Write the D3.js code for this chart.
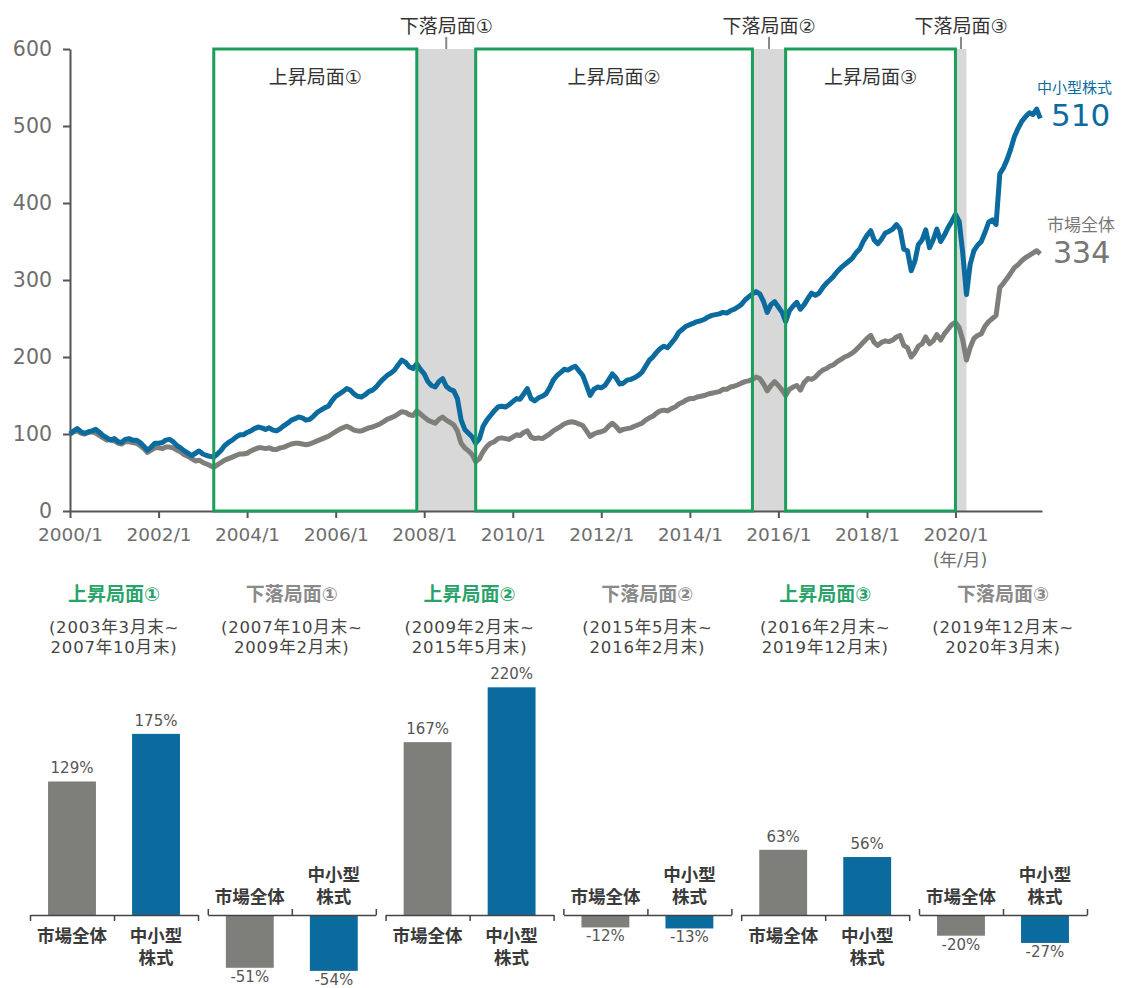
<!DOCTYPE html>
<html>
<head>
<meta charset="utf-8">
<script src="https://cdn.jsdelivr.net/npm/d3@7"></script>
<style>
body { margin: 0; background: #fff; }
svg text { font-family: "DejaVu Sans", "Noto Sans CJK JP", sans-serif; }
</style>
</head>
<body>
<div id="chart"></div>
<script>
/* 中小型株式 vs 市場全体 : line chart + phase bars */

// month-end index values, first value = base (1999/12末 = 100)
var smallCap = [100,
    104, 107, 103, 101, 103, 104, 106, 102, 98, 95, 92, 94,      // 2000
    90, 89, 93, 94, 92, 92, 89, 84, 79, 83, 88, 88,              // 2001
    89, 92, 93, 90, 85, 82, 78, 75, 72, 75, 78, 74,              // 2002
    72, 71, 70, 74, 79, 85, 89, 92, 96, 99, 99, 102,             // 2003
    104, 107, 109, 108, 106, 108, 105, 104, 107, 111, 114, 118,  // 2004
    120, 122, 121, 118, 119, 123, 128, 131, 134, 136, 143, 149,  // 2005
    152, 155, 159, 157, 152, 149, 148, 151, 155, 157, 161, 167,  // 2006
    172, 176, 179, 183, 190, 196, 193, 187, 185, 191, 184, 178,  // 2007
    168, 163, 161, 168, 172, 162, 158, 156, 146, 118, 106, 101,  // 2008
    96, 88, 94, 110, 118, 124, 130, 135, 136, 135, 138, 142,     // 2009
    146, 145, 152, 159, 146, 143, 147, 149, 152, 160, 170, 176,  // 2010
    180, 184, 183, 186, 188, 182, 176, 163, 150, 158, 161, 160,  // 2011
    163, 170, 178, 173, 165, 166, 170, 171, 173, 176, 180, 188,  // 2012
    196, 200, 206, 211, 214, 212, 218, 224, 232, 236, 240, 242,  // 2013
    244, 246, 247, 249, 252, 254, 255, 256, 258, 257, 260, 262,  // 2014
    265, 268, 274, 278, 282, 285, 282, 272, 258, 268, 272, 265,  // 2015
    258, 246, 260, 266, 271, 262, 268, 276, 283, 280, 283, 290,  // 2016
    296, 300, 305, 311, 316, 320, 324, 328, 335, 340, 350, 358,  // 2017
    364, 352, 347, 353, 361, 363, 366, 372, 366, 340, 338, 312,  // 2018
    325, 346, 352, 365, 342, 352, 366, 350, 358, 368, 376, 385,  // 2019
    376, 335, 281, 320, 338, 345, 350, 362, 375, 378, 372, 438,  // 2020
    446, 456, 470, 486, 497, 506, 512, 517, 515, 522, 510        // 2021
];

var market = [100,
    103, 104, 101, 100, 102, 103, 101, 98, 95, 92, 93, 91,       // 2000
    88, 87, 90, 90, 89, 88, 85, 81, 76, 79, 82, 82,              // 2001
    81, 83, 83, 82, 79, 77, 73, 71, 68, 65, 66, 63,              // 2002
    61, 59, 57, 60, 63, 66, 68, 70, 72, 74, 74, 75,              // 2003
    78, 80, 82, 82, 81, 82, 80, 80, 82, 83, 85, 87,              // 2004
    88, 88, 87, 86, 87, 89, 91, 93, 95, 97, 100, 103,            // 2005
    106, 108, 110, 108, 105, 104, 104, 106, 108, 109, 111, 113,  // 2006
    116, 119, 121, 123, 126, 129, 128, 125, 124, 130, 126, 122,  // 2007
    118, 116, 114, 119, 122, 118, 115, 112, 104, 88, 82, 78,     // 2008
    73, 64, 68, 77, 84, 88, 90, 94, 95, 94, 93, 96,              // 2009
    99, 98, 102, 104, 96, 94, 95, 94, 97, 100, 104, 107,         // 2010
    110, 113, 115, 116, 115, 113, 111, 104, 97, 100, 102, 103,   // 2011
    105, 110, 114, 110, 104, 106, 107, 108, 110, 112, 114, 118,  // 2012
    121, 123, 127, 130, 131, 130, 133, 135, 139, 141, 144, 146,  // 2013
    146, 148, 149, 150, 152, 153, 154, 155, 158, 158, 161, 162,  // 2014
    164, 166, 168, 169, 171, 174, 172, 165, 156, 163, 168, 163,  // 2015
    157, 150, 158, 161, 163, 157, 167, 172, 171, 174, 179, 183,  // 2016
    185, 188, 190, 194, 197, 200, 202, 205, 209, 214, 219, 224,  // 2017
    228, 219, 215, 219, 221, 220, 222, 226, 228, 215, 212, 200,  // 2018
    206, 214, 217, 226, 217, 221, 229, 222, 230, 236, 242, 245,  // 2019
    238, 222, 196, 212, 224, 228, 230, 240, 246, 250, 254, 290,  // 2020
    296, 302, 309, 316, 320, 325, 329, 332, 335, 338, 334        // 2021
];

var yTicks = [0, 100, 200, 300, 400, 500, 600];
var xTickYears = [2000, 2002, 2004, 2006, 2008, 2010, 2012, 2014, 2016, 2018, 2020];

// phases (month-end start / end)
var phaseNames = ["上昇局面①", "下落局面①", "上昇局面②", "下落局面②", "上昇局面③", "下落局面③"];
var phaseUp = [true, false, true, false, true, false];
var phaseStart = ["2003-03", "2007-10", "2009-02", "2015-05", "2016-02", "2019-12"];
var phaseEnd = ["2007-10", "2009-02", "2015-05", "2016-02", "2019-12", "2020-03"];
var periodLine1 = ["(2003年3月末~", "(2007年10月末~", "(2009年2月末~", "(2015年5月末~", "(2016年2月末~", "(2019年12月末~"];
var periodLine2 = ["2007年10月末)", "2009年2月末)", "2015年5月末)", "2016年2月末)", "2019年12月末)", "2020年3月末)"];
var marketReturn = [129, -51, 167, -12, 63, -20];
var smallReturn = [175, -54, 220, -13, 56, -27];

var blue = "#0b6b9f", grey = "#7e7f7a", green = "#1c9d5c", band = "#d8d8d8";

var width = 1125, height = 988;
var svg = d3.select("#chart").append("svg")
    .attr("width", width)
    .attr("height", height);

var parseMonth = d3.timeParse("%Y-%m");
function monthEnd(s) { return d3.timeMonth.offset(parseMonth(s), 1); }
var t0 = new Date(2000, 0, 1);

var x = d3.scaleTime()
    .domain([t0, new Date(2021, 11, 15)])
    .range([70, 1042]);
var y = d3.scaleLinear()
    .domain([0, 600])
    .range([511, 49]);

var phases = phaseNames.map(function(n, i) {
    return { name: n, up: phaseUp[i], s: monthEnd(phaseStart[i]), e: monthEnd(phaseEnd[i]) };
});

// grey falling bands
svg.selectAll("rect.band")
    .data(phases.filter(function(d) { return !d.up; }))
    .enter().append("rect")
    .attr("class", "band")
    .attr("x", function(d) { return x(d.s); })
    .attr("width", function(d) { return x(d.e) - x(d.s); })
    .attr("y", y(600))
    .attr("height", y(0) - y(600))
    .attr("fill", band);

// axes
var yAxis = svg.append("g")
    .attr("transform", "translate(70,0)")
    .call(d3.axisLeft(y).tickValues(yTicks).tickSize(7).tickSizeOuter(0).tickPadding(11));
var xAxis = svg.append("g")
    .attr("transform", "translate(0,511)")
    .call(d3.axisBottom(x)
        .tickValues(xTickYears.map(function(yr) { return new Date(yr, 0, 1); }))
        .tickFormat(d3.timeFormat("%Y/%-m"))
        .tickSize(7).tickSizeOuter(0).tickPadding(10));
[yAxis, xAxis].forEach(function(a) {
    a.select(".domain").attr("stroke", "#555").attr("stroke-width", 2);
    a.selectAll(".tick line").attr("stroke", "#555").attr("stroke-width", 2);
    a.selectAll(".tick text").attr("fill", "#6e6e6e").attr("font-family", "DejaVu Sans");
});
yAxis.selectAll(".tick text").attr("font-size", 20.5);
xAxis.selectAll(".tick text").attr("font-size", 18.5);

svg.append("text")
    .attr("x", 960).attr("y", 566)
    .attr("text-anchor", "middle")
    .attr("font-size", 17.5)
    .attr("fill", "#6e6e6e")
    .text("(年/月)");

// lines
var line = d3.line()
    .x(function(d, i) { return x(d3.timeMonth.offset(t0, i)); })
    .y(function(d) { return y(d); });

svg.append("path").datum(market)
    .attr("d", line)
    .attr("fill", "none").attr("stroke", grey)
    .attr("stroke-width", 5).attr("stroke-linejoin", "round");
svg.append("path").datum(smallCap)
    .attr("d", line)
    .attr("fill", "none").attr("stroke", blue)
    .attr("stroke-width", 5).attr("stroke-linejoin", "round");

// green rising boxes
var ups = phases.filter(function(d) { return d.up; });
svg.selectAll("rect.up")
    .data(ups)
    .enter().append("rect")
    .attr("class", "up")
    .attr("x", function(d) { return x(d.s); })
    .attr("width", function(d) { return x(d.e) - x(d.s); })
    .attr("y", y(600))
    .attr("height", y(0) - y(600))
    .attr("fill", "none")
    .attr("stroke", green)
    .attr("stroke-width", 3);

svg.selectAll("text.uplabel")
    .data(ups)
    .enter().append("text")
    .attr("x", function(d) { return (x(d.s) + x(d.e)) / 2; })
    .attr("y", 84)
    .attr("text-anchor", "middle")
    .attr("font-size", 19)
    .attr("font-family", "Noto Sans CJK JP")
    .attr("fill", "#333")
    .text(function(d) { return d.name; });

// callouts for falling phases
var downs = phases.filter(function(d) { return !d.up; });
var callout = svg.selectAll("g.callout")
    .data(downs)
    .enter().append("g")
    .attr("transform", function(d) { return "translate(" + (x(d.s) + x(d.e)) / 2 + ",0)"; });
callout.append("line")
    .attr("y1", 37).attr("y2", 49)
    .attr("stroke", "#888").attr("stroke-width", 2);
callout.append("text")
    .attr("y", 33)
    .attr("text-anchor", "middle")
    .attr("font-size", 19)
    .attr("font-family", "Noto Sans CJK JP")
    .attr("fill", "#333")
    .text(function(d) { return d.name; });

// end labels
svg.append("text").attr("x", 1037).attr("y", 93)
    .attr("font-size", 15).attr("fill", blue).text("中小型株式");
svg.append("text").attr("x", 1051).attr("y", 126)
    .attr("font-size", 31).attr("fill", blue).text(smallCap[smallCap.length - 1]);
svg.append("text").attr("x", 1047).attr("y", 231)
    .attr("font-size", 17).attr("fill", "#777").text("市場全体");
svg.append("text").attr("x", 1053).attr("y", 263)
    .attr("font-size", 30).attr("fill", "#777").text(market[market.length - 1]);

// ---- bottom: returns per phase ----
var panelX = d3.scaleBand()
    .domain(phaseNames)
    .range([30, 1087])
    .paddingInner(0.055);
var barX = d3.scaleBand()
    .domain(["市場全体", "中小型株式"])
    .range([0, panelX.bandwidth()])
    .paddingInner(0.43)
    .paddingOuter(0.215);
var barY = d3.scaleLinear()
    .domain([0, 100])
    .range([915, 811.5]);

var panels = svg.selectAll("g.panel")
    .data(phases.map(function(p, i) {
        return { p: p, i: i, vals: [marketReturn[i], smallReturn[i]] };
    }))
    .enter().append("g")
    .attr("class", "panel")
    .attr("transform", function(d) { return "translate(" + panelX(d.p.name) + ",0)"; });

var mid = panelX.bandwidth() / 2;

panels.append("text")
    .attr("x", mid).attr("y", 601)
    .attr("text-anchor", "middle")
    .attr("font-size", 19)
    .attr("font-family", "Noto Sans CJK JP")
    .attr("font-weight", "bold")
    .attr("fill", function(d) { return d.p.up ? "#2aa36a" : "#8a8a8a"; })
    .text(function(d) { return d.p.name; });
panels.append("text")
    .attr("x", mid).attr("y", 633)
    .attr("text-anchor", "middle")
    .attr("font-size", 16.5)
    .attr("letter-spacing", 0.8)
    .attr("fill", "#444")
    .text(function(d) { return periodLine1[d.i]; });
panels.append("text")
    .attr("x", mid).attr("y", 653)
    .attr("text-anchor", "middle")
    .attr("font-size", 16.5)
    .attr("letter-spacing", 0.8)
    .attr("fill", "#444")
    .text(function(d) { return periodLine2[d.i]; });

panels.selectAll("rect")
    .data(function(d) { return d.vals; })
    .enter().append("rect")
    .attr("x", function(v, j) { return barX(barX.domain()[j]); })
    .attr("width", barX.bandwidth())
    .attr("y", function(v) { return v > 0 ? barY(v) : barY(0); })
    .attr("height", function(v) { return Math.abs(barY(v) - barY(0)); })
    .attr("fill", function(v, j) { return j === 0 ? grey : blue; });

panels.selectAll("text.val")
    .data(function(d) { return d.vals; })
    .enter().append("text")
    .attr("class", "val")
    .attr("x", function(v, j) { return barX(barX.domain()[j]) + barX.bandwidth() / 2; })
    .attr("y", function(v) { return v > 0 ? barY(v) - 8 : barY(v) + 14; })
    .attr("text-anchor", "middle")
    .attr("font-size", 15)
    .attr("fill", "#555")
    .text(function(v) { return v + "%"; });

// small axis per panel, ticks point away from bars
var tickScale = d3.scaleLinear().domain([0, 2]).range([0, panelX.bandwidth()]);
panels.append("g")
    .attr("transform", "translate(0," + barY(0) + ")")
    .each(function(d) {
        var pos = d.vals[0] > 0;
        d3.select(this).call(d3.axisBottom(tickScale)
            .tickValues([0, 1, 2]).tickFormat("")
            .tickSize(pos ? 6 : -6).tickSizeOuter(0));
    })
    .call(function(g) {
        g.selectAll("path, line").attr("stroke", "#444").attr("stroke-width", 1.5);
    });

// category labels
panels.each(function(d) {
    var g = d3.select(this);
    var pos = d.vals[0] > 0;
    var cx0 = barX("市場全体") + barX.bandwidth() / 2;
    var cx1 = barX("中小型株式") + barX.bandwidth() / 2;
    var base = pos ? 942 : 903;
    function lab(cx, yy, s) {
        g.append("text").attr("x", cx).attr("y", yy)
            .attr("text-anchor", "middle").attr("font-size", 17.5)
            .attr("font-family", "Noto Sans CJK JP").attr("font-weight", "bold")
            .attr("fill", "#3a3a3a")
            .text(s);
    }
    lab(cx0, base, "市場全体");
    lab(cx1, pos ? base : base - 22, "中小型");
    lab(cx1, pos ? base + 22 : base, "株式");
});
</script>
</body>
</html>
